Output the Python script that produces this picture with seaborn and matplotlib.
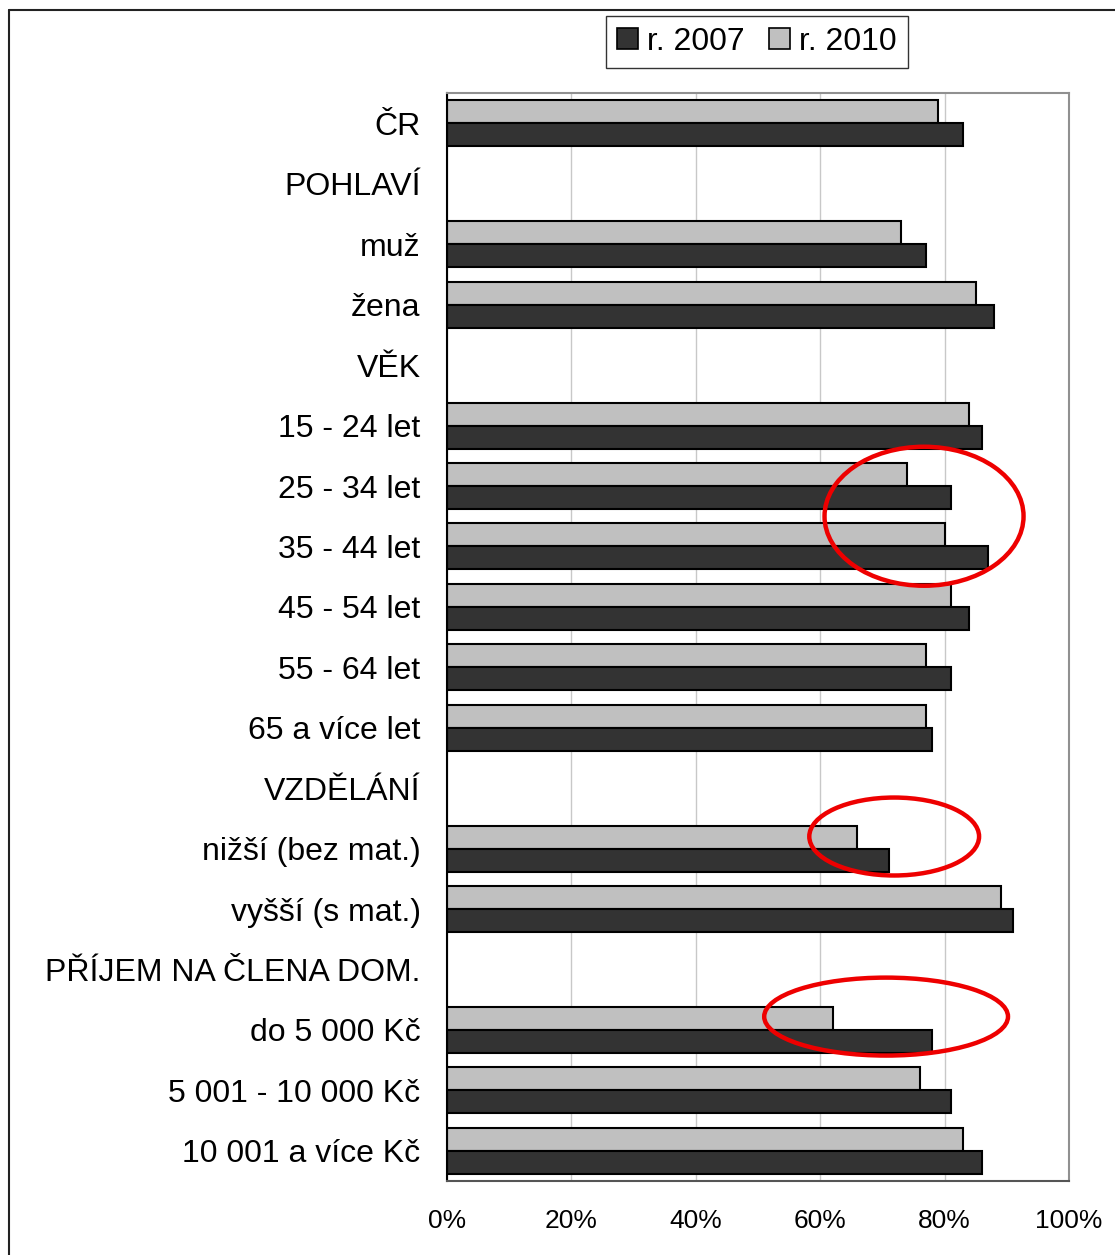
import numpy as np
import pandas as pd
import matplotlib
matplotlib.use("Agg")
import matplotlib.pyplot as plt
from matplotlib.patches import Ellipse, Patch
from matplotlib.lines import Line2D
import seaborn as sns

# Data (percent), None = section header row
categories = ["ČR", "POHLAVÍ", "muž", "žena", "VĚK", "15 - 24 let", "25 - 34 let",
              "35 - 44 let", "45 - 54 let", "55 - 64 let", "65 a více let", "VZDĚLÁNÍ",
              "nižší (bez mat.)", "vyšší (s mat.)", "PŘÍJEM NA ČLENA DOM.",
              "do 5 000 Kč", "5 001 - 10 000 Kč", "10 001 a více Kč"]
values_2007 = [83, None, 77, 88, None, 86, 81, 87, 84, 81, 78, None, 71, 91, None, 78, 81, 86]
values_2010 = [79, None, 73, 85, None, 84, 74, 80, 81, 77, 77, None, 66, 89, None, 62, 76, 83]
series = ["r. 2007", "r. 2010"]
colors = {"r. 2007": "#333333", "r. 2010": "#c0c0c0"}

# highlighted groups: (center category, offset, center x %, width %, height in rows)
highlights = [("25 - 34 let", 0.5, 76.7, 32.0, 2.3),
              ("nižší (bez mat.)", -0.2, 71.9, 27.3, 1.29),
              ("do 5 000 Kč", -0.22, 70.6, 39.2, 1.29)]

df = pd.DataFrame({
    "kategorie": categories * 2,
    "rok": [series[0]] * len(categories) + [series[1]] * len(categories),
    "hodnota": [np.nan if v is None else v for v in values_2007 + values_2010],
})

sns.set_style("white")
plt.rcParams["font.family"] = ["Liberation Sans", "DejaVu Sans"]
plt.rcParams["text.color"] = "black"
plt.rcParams["xtick.color"] = "black"
plt.rcParams["ytick.color"] = "black"

fig = plt.figure(figsize=(11.15, 12.55), dpi=100)
ax = fig.add_axes([0.4009, 0.059, 0.5578, 0.8667])

sns.barplot(data=df, x="hodnota", y="kategorie", hue="rok", order=categories,
            hue_order=[series[1], series[0]], palette=colors, orient="h",
            width=0.76, edgecolor="black", linewidth=1.5, ax=ax, legend=False)

ax.set_xlim(0, 100)
ax.set_ylim(len(categories) - 0.5, -0.5)
ax.set_xlabel("")
ax.set_ylabel("")

ax.set_xticks(np.arange(0, 101, 20))
ax.set_xticklabels([f"{t}%" for t in range(0, 101, 20)], fontsize=19)
ax.tick_params(axis="x", direction="out", length=7, width=1.2, color="#555555", pad=13)
ax.xaxis.grid(True, color="#c8c8c8", linewidth=1)
ax.set_axisbelow(True)

ax.set_yticks(np.arange(len(categories)))
ax.set_yticklabels(categories, fontsize=23)
ax.tick_params(axis="y", which="major", length=0, pad=19)
ax.set_yticks(np.arange(-0.5, len(categories), 1), minor=True)
ax.tick_params(axis="y", which="minor", direction="out", length=7, width=1.2, color="black")

for side in ["top", "right"]:
    ax.spines[side].set_visible(True)
    ax.spines[side].set_color("#909090")
    ax.spines[side].set_linewidth(1.5)
ax.spines["left"].set_color("black")
ax.spines["left"].set_linewidth(1.5)
ax.spines["bottom"].set_color("#555555")
ax.spines["bottom"].set_linewidth(1.5)

for cat, off, cx, w, h in highlights:
    cy = categories.index(cat) + off
    ax.add_patch(Ellipse((cx, cy), w, h, fill=False, edgecolor="#ee0000",
                         linewidth=3.2, clip_on=False, zorder=5))

handles = [Patch(facecolor=colors[s], edgecolor="black", linewidth=1.2) for s in series]
leg = fig.legend(handles, series, loc="center", bbox_to_anchor=(0.6789, 0.9665),
                 ncol=2, fontsize=23, frameon=True, fancybox=False, edgecolor="black",
                 handlelength=0.65, handleheight=0.65, handletextpad=0.3, columnspacing=0.75,
                 borderpad=0.35, borderaxespad=0.0)
leg.get_frame().set_linewidth(1)

# outer frame (only top and left edges are visible)
fig.add_artist(Line2D([0.0085, 0.0085], [0.0, 0.992], color="#222222", linewidth=1.5))
fig.add_artist(Line2D([0.0085, 1.0], [0.992, 0.992], color="#222222", linewidth=1.5))

fig.savefig("out.png", dpi=100)
